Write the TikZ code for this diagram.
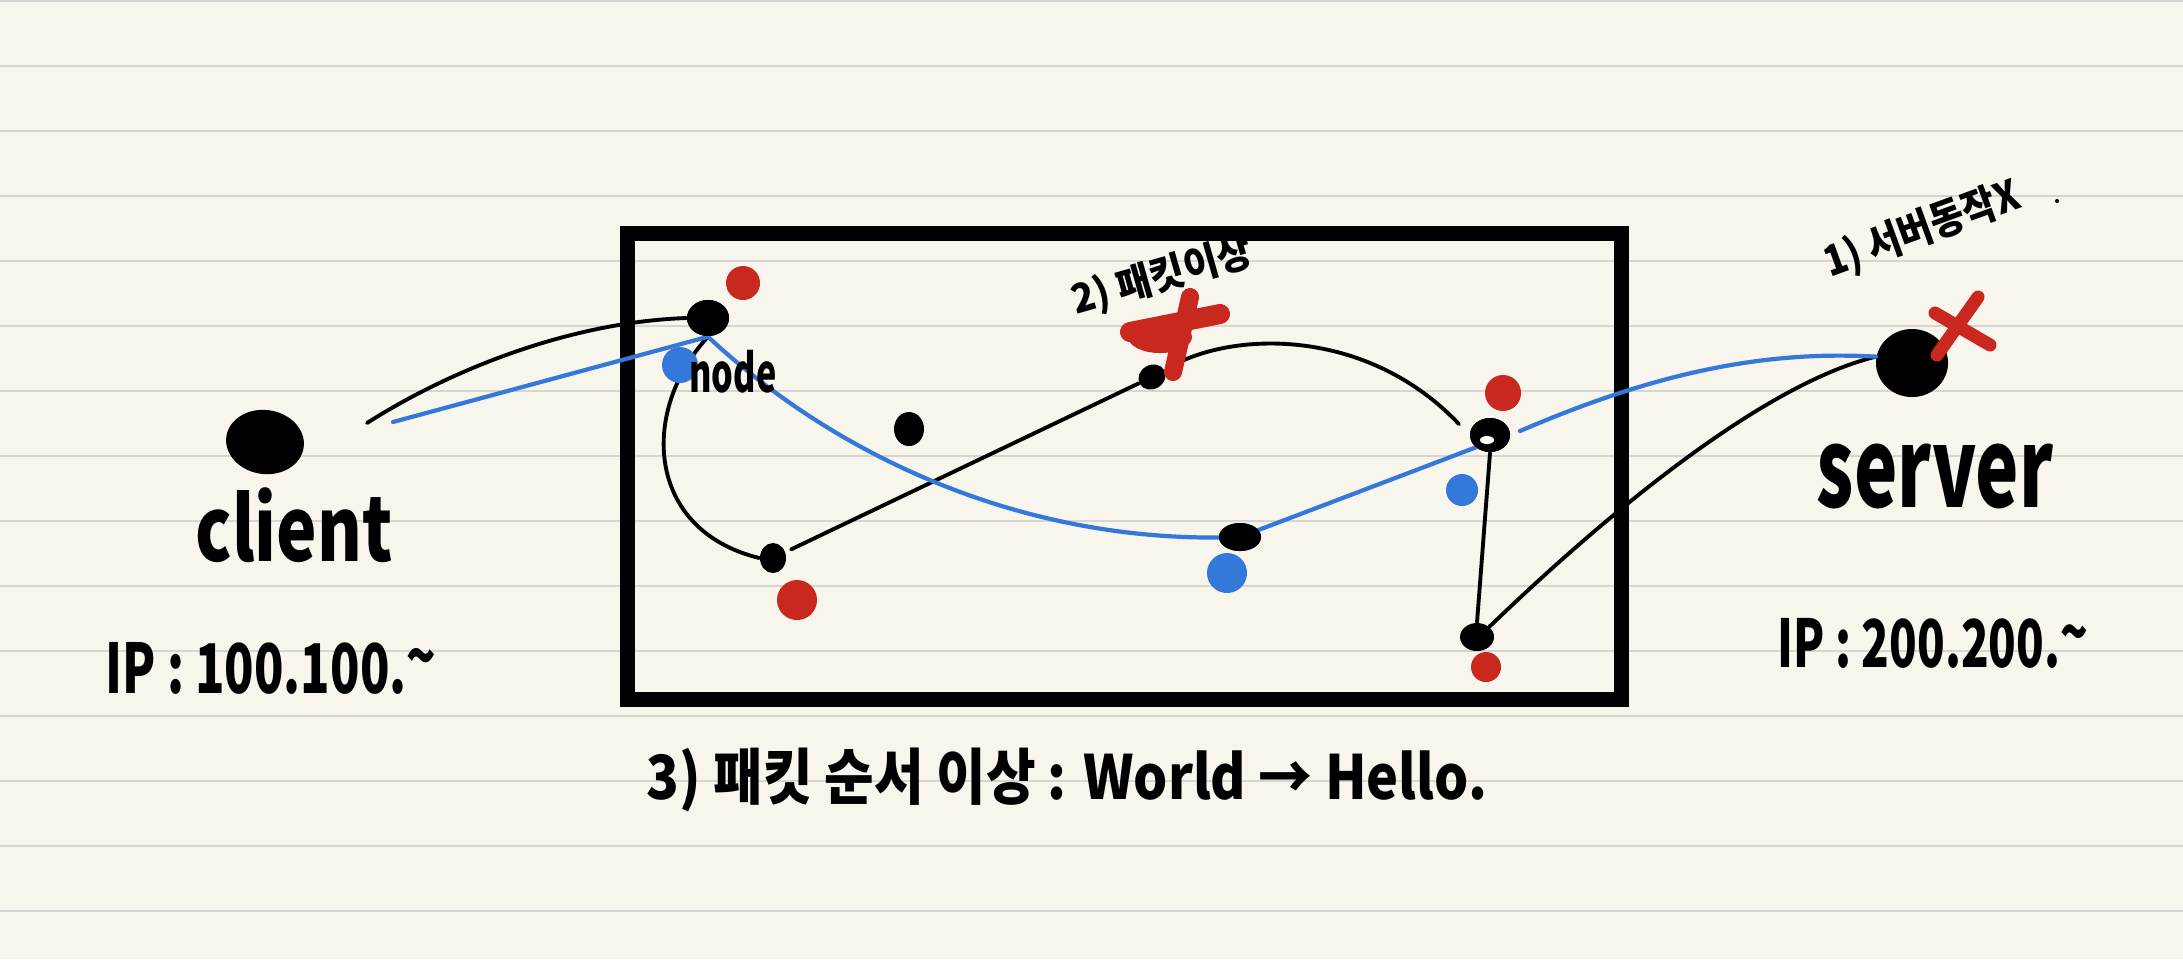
\documentclass[tikz,border=0pt]{standalone}
\usepackage{fontspec}
\setmainfont{Liberation Sans}
\newfontfamily\kr{Noto Sans CJK KR}
\usetikzlibrary{shapes.geometric}
\definecolor{paper}{HTML}{F7F5EC}
\definecolor{rulecol}{HTML}{D5D5D3}
\definecolor{pred}{HTML}{C8281D}
\definecolor{pblue}{HTML}{3479DA}
\begin{document}
\begin{tikzpicture}[x=0.01cm,y=-0.01cm,
  blob/.style={ellipse, fill=black, inner sep=0pt},
  redmark/.style={circle, fill=pred, inner sep=0pt},
  bluemark/.style={circle, fill=pblue, inner sep=0pt},
  wire/.style={line width=1.1pt, line cap=round},
  bluewire/.style={pblue, line width=1.2pt, line cap=round},
  hand/.style={font=\kr\bfseries, inner sep=0pt}
]
\fill[paper] (0,0) rectangle (2183,959);
\useasboundingbox (0,0) rectangle (2183,959);
\foreach \k in {0,...,14} \draw[rulecol, line width=0.8pt] (0,1+65*\k) -- (2183,1+65*\k);

% frame
\node[draw, line width=1.5mm, minimum width=99.3cm/10, minimum height=46.5cm/10, inner sep=0pt] (frame) at (1124.5,466.5) {};

% dots
\node[blob, minimum width=7.8mm, minimum height=6.4mm, rotate=-8] (client) at (265,442) {};
\node[blob, minimum width=7.2mm, minimum height=6.8mm] (server) at (1912,363) {};
\node[blob, minimum width=4.2mm, minimum height=3.6mm] (n1) at (708,318) {};
\node[blob, minimum width=2.6mm, minimum height=3.0mm] (n2) at (773,558) {};
\node[blob, minimum width=3.0mm, minimum height=3.4mm] (n3) at (909,429) {};
\node[blob, minimum width=2.8mm, minimum height=2.4mm, rotate=30] (n4) at (1152,377) {};
\node[blob, minimum width=4.2mm, minimum height=2.8mm] (n5) at (1240,537) {};
\node[blob, minimum width=4.0mm, minimum height=3.4mm] (n6) at (1490,435) {};
\node[blob, minimum width=3.4mm, minimum height=2.8mm] (n7) at (1477,637) {};

% free ends
\coordinate (cstart) at (367,423);
\coordinate (bstart) at (393,422);

% black connectors
\draw[wire] (cstart) .. controls (450,370) and (570,322) .. (n1.west);
\draw[wire] (n1.south) .. controls (640,410) and (645,530) .. (n2.west);
\draw[wire, shorten <=0.6mm] (n2) -- (n4);
\draw[wire, shorten <=1mm, shorten >=1.5mm] (n4.east) .. controls (1240,330) and (1370,330) .. (n6.west);
\draw[wire] (n6.south) -- (n7.north);
\draw[wire] (server.170) .. controls (1760,385) and (1600,520) .. (n7.north east);

% blue connectors
\draw[bluewire] (bstart) -- (n1.south);
\draw[bluewire] (n1.south) .. controls (840,460) and (1030,545) .. (n5.center) -- (n6.south west);
\draw[bluewire, shorten <=1mm] (n6.east) .. controls (1650,375) and (1760,350) .. (server.170);

% redraw dots on top
\foreach \n in {client,server,n1,n2,n3,n4,n5,n6,n7} \fill[black] (\n.center) circle (0pt);
\node[blob, minimum width=4.2mm, minimum height=2.8mm] at (n5.center) {};
\node[blob, minimum width=4.0mm, minimum height=3.4mm] at (n6.center) {};
\fill[white] (1487,440) ellipse (7 and 4);
\node[blob, minimum width=4.2mm, minimum height=3.6mm] at (n1.center) {};

% red and blue marks
\node[redmark, minimum size=3.4mm] (r1) at (743,283) {};
\node[redmark, minimum size=4.0mm] (r2) at (797,600) {};
\node[redmark, minimum size=3.6mm] (r3) at (1503,393) {};
\node[redmark, minimum size=3.0mm] (r4) at (1486,667) {};
\node[bluemark, minimum size=3.6mm] (b1) at (680,365) {};
\node[bluemark, minimum size=4.0mm] (b2) at (1227,573) {};
\node[bluemark, minimum size=3.2mm] (b3) at (1462,490) {};

% red crosses
\draw[pred, line width=2mm, line cap=round] (1130,332) -- (1220,314);
\fill[pred] (1160,337) ellipse (32 and 16);
\draw[pred, line width=1.8mm, line cap=round] (1190,297) -- (1173,372);
\draw[pred, line width=1.3mm, line cap=round] (1935,313) -- (1990,345);
\draw[pred, line width=1.3mm, line cap=round] (1978,297) -- (1937,355);

% labels
\node[hand] (tclient) at (294,525) {\resizebox*{19.7mm}{7.5mm}{client}};
\node[hand] (tserver) at (1935,476) {\resizebox*{23.6mm}{6.5mm}{server}};
\node[hand] (ipc) at (271,668) {\resizebox*{33mm}{5.2mm}{IP : 100.100.\raisebox{0.3ex}{\textasciitilde}}};
\node[hand] (ips) at (1933,643) {\resizebox*{31mm}{5mm}{IP : 200.200.\raisebox{0.3ex}{\textasciitilde}}};
\node[hand] (tnode) at (733,372) {\resizebox*{8.7mm}{4.3mm}{node}};
\node[hand, rotate=16] (t2) at (1162,277) {\resizebox*{18.6mm}{4.2mm}{2) 패킷이상}};
\node[hand, rotate=20] (t1) at (1922,230) {\resizebox*{20.5mm}{4.4mm}{1) 서버동작X}};
\fill (2057,201) circle (2);
\node[hand] (t3) at (1067,780) {\resizebox*{84mm}{6.4mm}{3) 패킷 순서 이상 : World → Hello.}};
\end{tikzpicture}
\end{document}
